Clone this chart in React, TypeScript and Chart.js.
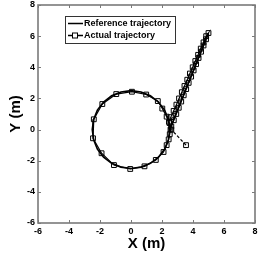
import React, { useEffect, useRef } from "react";
import { Chart, registerables } from "chart.js";

Chart.register(...registerables);

const xTicks = [-6, -4, -2, 0, 2, 4, 6, 8];
const yTicks = [-6, -4, -2, 0, 2, 4, 6, 8];

// Reference trajectory: circle (radius 2.5) then straight path
const refX = [2.5, 2.41, 2.17, 1.77, 1.25, 0.65, 0, -0.65, -1.25, -1.77, -2.17, -2.41, -2.5, -2.41, -2.17, -1.77, -1.25, -0.65, 0, 0.65, 1.25, 1.77, 2.17, 2.41, 2.5, 5.0];
const refY = [0, 0.65, 1.25, 1.77, 2.17, 2.41, 2.5, 2.41, 2.17, 1.77, 1.25, 0.65, 0, -0.65, -1.25, -1.77, -2.17, -2.41, -2.5, -2.41, -2.17, -1.77, -1.25, -0.65, 0, 6.2];

// Actual trajectory
const actX = [3.55, 2.6, 2.48, 2.3, 2.02, 1.73, 0.98, 0.06, -0.95, -1.85, -2.4, -2.45, -1.9, -1.1, -0.05, 0.87, 1.6, 2.1, 2.3, 2.43, 2.5, 2.55,
  2.6, 2.76, 2.92, 3.08, 3.24, 3.4, 3.56, 3.72, 3.88, 4.04, 4.2, 4.36, 4.52, 4.68, 4.84, 5.0,
  4.85, 4.68, 4.5, 4.33, 4.15, 3.98, 3.8, 3.63, 3.45, 3.28, 3.1, 2.93, 2.75, 2.57, 2.45];
const actY = [-1.0, 0.0, 0.42, 0.83, 1.35, 1.83, 2.25, 2.43, 2.28, 1.64, 0.66, -0.56, -1.52, -2.28, -2.53, -2.36, -1.95, -1.44, -1.0, -0.63, -0.3, 0.0,
  0.2, 0.6, 1.0, 1.4, 1.8, 2.2, 2.6, 3.0, 3.4, 3.8, 4.2, 4.6, 5.0, 5.4, 5.8, 6.2,
  6.0, 5.6, 5.2, 4.8, 4.4, 4.0, 3.6, 3.2, 2.8, 2.4, 2.0, 1.6, 1.2, 0.8, 0.5];

const legendLabels = ["Reference trajectory", "Actual trajectory"];

const FONT = "'Liberation Sans', Arial, sans-serif";
const FRAME = "#7a7a7a";

const framePlugin = {
  id: "frame",
  afterDraw(chart: any) {
    const { ctx, chartArea: a, scales } = chart;
    ctx.save();
    ctx.strokeStyle = FRAME;
    ctx.lineWidth = 1.6;
    ctx.strokeRect(a.left, a.top, a.right - a.left, a.bottom - a.top);
    ctx.lineWidth = 1;
    ctx.beginPath();
    xTicks.forEach((v) => {
      const px = Math.round(scales.x.getPixelForValue(v)) + 0.5;
      ctx.moveTo(px, a.bottom);
      ctx.lineTo(px, a.bottom - 3);
      ctx.moveTo(px, a.top);
      ctx.lineTo(px, a.top + 3);
    });
    yTicks.forEach((v) => {
      const py = Math.round(scales.y.getPixelForValue(v)) + 0.5;
      ctx.moveTo(a.left, py);
      ctx.lineTo(a.left + 3, py);
      ctx.moveTo(a.right, py);
      ctx.lineTo(a.right - 3, py);
    });
    ctx.stroke();

    // legend
    const lx = 65, ly = 16, lw = 110, lh = 27;
    ctx.fillStyle = "#fff";
    ctx.fillRect(lx, ly, lw, lh);
    ctx.strokeStyle = "#333";
    ctx.lineWidth = 1;
    ctx.strokeRect(lx + 0.5, ly + 0.5, lw, lh);
    ctx.strokeStyle = "#000";
    ctx.lineWidth = 1.5;
    ctx.beginPath();
    ctx.moveTo(lx + 3, ly + 7.5);
    ctx.lineTo(lx + 18, ly + 7.5);
    ctx.moveTo(lx + 3, ly + 19.5);
    ctx.lineTo(lx + 18, ly + 19.5);
    ctx.stroke();
    ctx.fillStyle = "#fff";
    ctx.fillRect(lx + 7.5, ly + 17, 5, 5);
    ctx.lineWidth = 1;
    ctx.strokeRect(lx + 7.5, ly + 17, 5, 5);
    ctx.fillStyle = "#000";
    ctx.font = `bold 9px ${FONT}`;
    ctx.textBaseline = "middle";
    ctx.textAlign = "left";
    ctx.fillText(legendLabels[0], lx + 19, ly + 7.5);
    ctx.fillText(legendLabels[1], lx + 19, ly + 19.5);
    ctx.restore();
  },
};

export default function App() {
  const ref = useRef<HTMLCanvasElement>(null);
  useEffect(() => {
    if (!ref.current) return;
    const chart = new Chart(ref.current, {
      type: "scatter",
      data: {
        datasets: [
          {
            label: legendLabels[0],
            data: refX.map((x, i) => ({ x, y: refY[i] })),
            showLine: true,
            borderColor: "#000",
            borderWidth: 1.6,
            pointRadius: 0,
            tension: 0,
          },
          {
            label: legendLabels[1],
            data: actX.map((x, i) => ({ x, y: actY[i] })),
            showLine: true,
            borderColor: "#000",
            borderWidth: 1.2,
            pointStyle: "rect",
            pointRadius: 3.4,
            pointBorderWidth: 1,
            pointBorderColor: "#000",
            pointBackgroundColor: "rgba(255,255,255,0)",
            segment: {
              borderDash: (c: any) => (c.p0DataIndex === 0 ? [3, 2] : undefined),
            },
          },
        ],
      },
      options: {
        animation: false,
        responsive: false,
        layout: { padding: { top: 5, right: 3, left: 0, bottom: 0 } },
        plugins: { legend: { display: false }, tooltip: { enabled: false } },
        scales: {
          x: {
            type: "linear",
            min: -6,
            max: 8,
            afterBuildTicks: (s: any) => { s.ticks = xTicks.map((v) => ({ value: v })); },
            afterFit: (s: any) => { s.height = 30; s.paddingLeft = 0; s.paddingRight = 0; },
            grid: { display: false, drawTicks: false },
            border: { display: false },
            ticks: { padding: 3, color: "#000", font: { family: FONT, size: 9, weight: "bold" }, maxRotation: 0 },
            title: { display: true, text: "X (m)", color: "#000", font: { family: FONT, size: 15, weight: "bold" }, padding: { top: 0, bottom: 0 } },
          },
          y: {
            type: "linear",
            min: -6,
            max: 8,
            afterBuildTicks: (s: any) => { s.ticks = yTicks.map((v) => ({ value: v })); },
            afterFit: (s: any) => { s.width = 38; s.paddingTop = 0; s.paddingBottom = 0; },
            grid: { display: false, drawTicks: false },
            border: { display: false },
            ticks: { padding: 3, color: "#000", font: { family: FONT, size: 9, weight: "bold" } },
            title: { display: true, text: "Y (m)", color: "#000", font: { family: FONT, size: 15, weight: "bold" }, padding: { top: 7, bottom: 4 } },
          },
        },
      },
      plugins: [framePlugin],
    } as any);
    return () => chart.destroy();
  }, []);
  return (
    <div style={{ position: "absolute", left: 0, top: 0, width: 260, height: 253, background: "#fff" }}>
      <canvas ref={ref} width={260} height={253} />
    </div>
  );
}
